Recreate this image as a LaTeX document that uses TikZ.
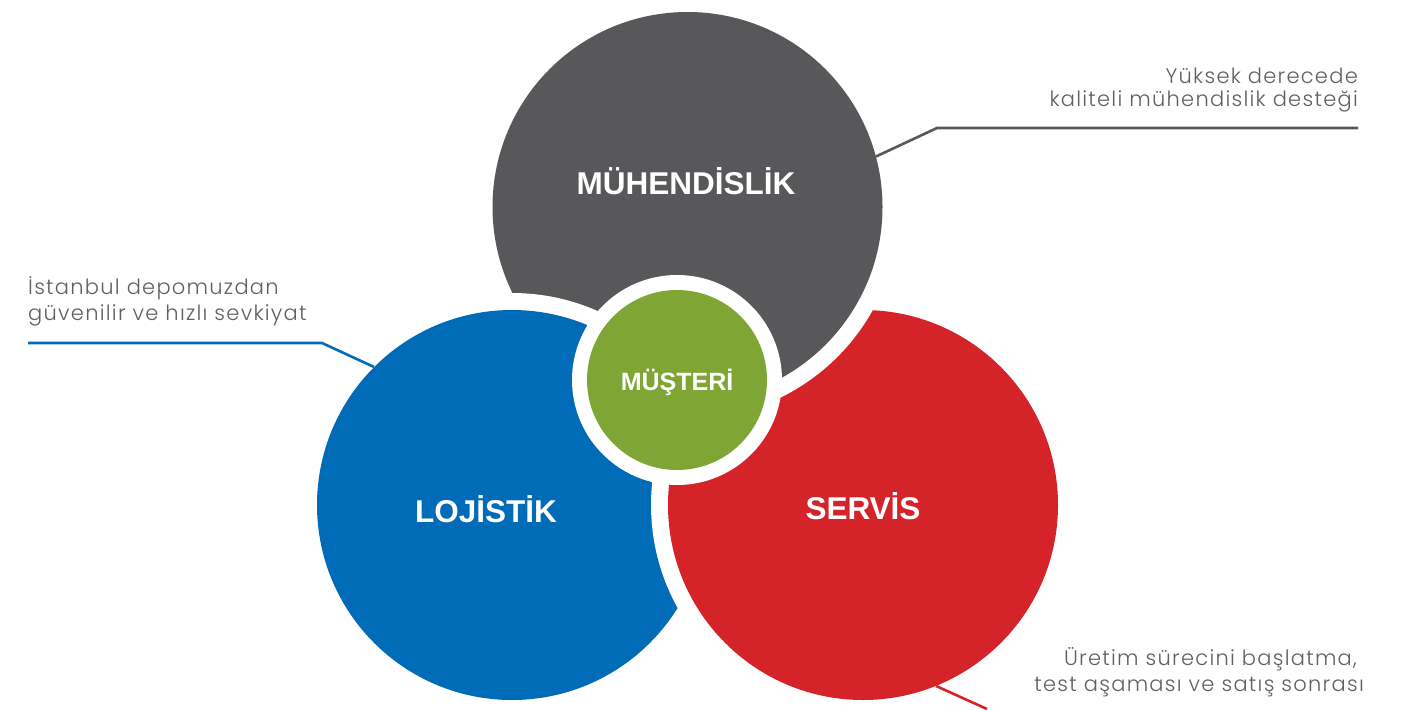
\documentclass[tikz,border=0pt]{standalone}
\usepackage{fontspec}
\setmainfont{Liberation Sans}
\newfontfamily\lightfont{Poppins Light}[LetterSpace=6]
\definecolor{cgray}{HTML}{58585A}
\definecolor{cblue}{HTML}{006BB6}
\definecolor{cred}{HTML}{D5232A}
\definecolor{cgreen}{HTML}{7FA535}
\definecolor{ctext}{HTML}{606062}
\begin{document}
\begin{tikzpicture}[x=1pt,y=-1pt,
  disc/.style={circle, inner sep=0pt, minimum size=#1},
  halo/.style={circle, inner sep=0pt, fill=white, minimum size=#1},
  biglabel/.style={text=white, inner sep=0pt, anchor=base, font=\bfseries\fontsize{31.5}{36}\selectfont},
  note/.style={text=ctext, inner sep=0pt, anchor=base east, font=\lightfont\fontsize{21}{25}\selectfont},
  notel/.style={note, anchor=base west},
  leader/.style={line width=2.6pt}
]
\useasboundingbox (0,0) rectangle (1415,709);
% engineering
\node[disc=390pt, fill=cgray] (mh) at (687.5,207) {};
% logistics (over engineering)
\node[halo=424pt] (ljh) at (512,505) {};
\node[disc=390pt, fill=cblue] (lj) at (512,505) {};
% service (over logistics)
\node[halo=424pt] (svh) at (863,505) {};
\node[disc=390pt, fill=cred] (sv) at (863,505) {};
% engineering over service (right side only)
\begin{scope}
  \clip (700,0) rectangle (1415,709);
  \node[halo=424pt] (mhh) at (687.5,207) {};
  \node[disc=390pt, fill=cgray] (mh2) at (687.5,207) {};
\end{scope}
% customer
\node[halo=210pt] (mth) at (677,380) {};
\node[disc=180pt, fill=cgreen] (mt) at (677,380) {};

\node[biglabel] (tmh) at (686,194) {MÜHENDİSLİK};
\node[biglabel] (tlj) at (486,522) {LOJİSTİK};
\node[biglabel] (tsv) at (863,519) {SERVİS};
\node[biglabel, font=\bfseries\fontsize{25}{30}\selectfont] (tmt) at (677,390) {MÜŞTERİ};

% leaders
\coordinate (gk) at (937,128);
\coordinate (ge) at (1358,128);
\draw[leader, cgray] (mh.15.4) -- (gk) -- (ge);
\coordinate (bk) at (322,343);
\coordinate (be) at (28,343);
\draw[leader, cblue] (lj.135) -- (bk) -- (be);
\coordinate (re) at (987,709);
\draw[leader, cred] (sv.-68) -- (re);

% notes
\node[note] (n1a) at (1358,83) {Yüksek derecede};
\node[note] (n1b) at (1358,106) {kaliteli mühendislik desteği};
\node[notel] (n2a) at (28,294) {İstanbul depomuzdan};
\node[notel] (n2b) at (28,320) {güvenilir ve hızlı sevkiyat};
\node[note] (n3a) at (1357,665) {Üretim sürecini başlatma,};
\node[note] (n3b) at (1364,691) {test aşaması ve satış sonrası};
\end{tikzpicture}
\end{document}
